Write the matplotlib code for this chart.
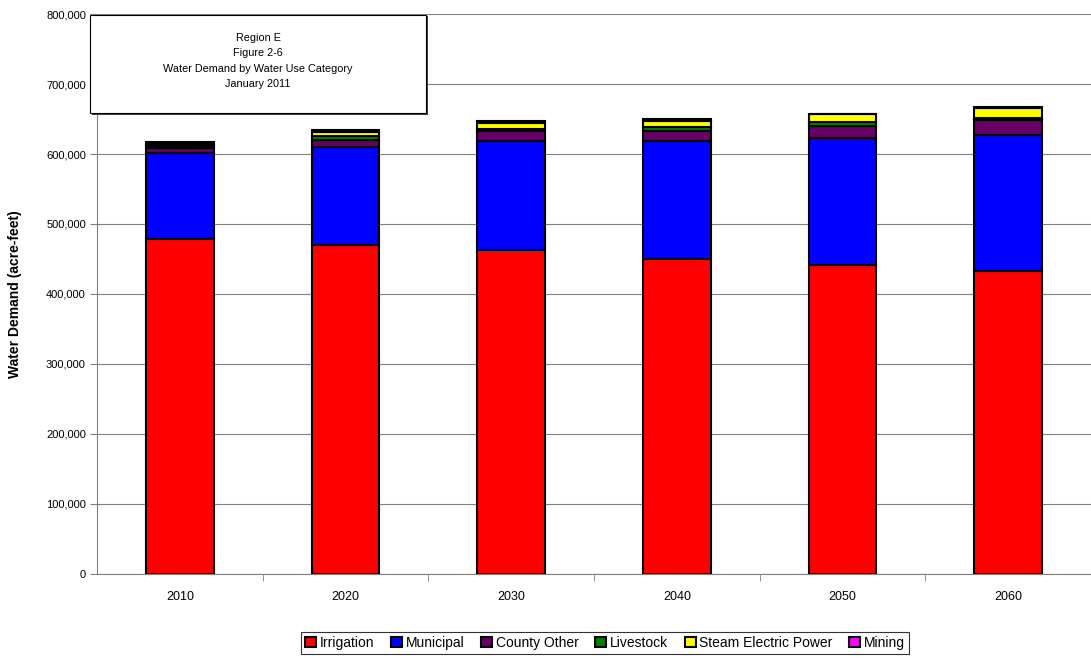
import matplotlib.pyplot as plt
import numpy as np
from matplotlib.patches import Rectangle

plt.rcParams['font.family'] = ['Liberation Sans', 'DejaVu Sans']

years = ['2010', '2020', '2030', '2040', '2050', '2060']
irrigation = [478300, 470000, 462900, 450000, 441400, 432900]
municipal = [122700, 140400, 155700, 168600, 181900, 194700]
county_other = [7100, 10000, 13800, 14700, 17100, 20500]
livestock = [3200, 4900, 3700, 4800, 4900, 2900]
steam_electric = [3000, 6600, 7800, 9500, 11400, 14300]
mining = [3300, 2000, 3200, 2000, 900, 1800]

series = [('Irrigation', irrigation, '#ff0000'),
          ('Municipal', municipal, '#0000ff'),
          ('County Other', county_other, '#660066'),
          ('Livestock', livestock, '#008000'),
          ('Steam Electric Power', steam_electric, '#ffff00'),
          ('Mining', mining, '#ff00ff')]

fig = plt.figure(figsize=(10.91, 6.58), dpi=100)
ax = fig.add_axes([0.0889, 0.1277, 0.9111, 0.851])

x = np.arange(len(years))
bottom = np.zeros(len(years))
for name, vals, color in series:
    vals = np.array(vals, dtype=float)
    ax.bar(x, vals, width=0.41, bottom=bottom, color=color, edgecolor='black',
           linewidth=1.5, label=name, zorder=3)
    bottom += vals

ax.set_xlim(-0.5, len(years) - 0.5)
ax.set_ylim(0, 800000)
ax.set_yticks(np.arange(0, 800001, 100000))
ax.set_yticklabels(['{:,}'.format(v) for v in range(0, 800001, 100000)], fontsize=8)
ax.yaxis.grid(True, color='#808080', linewidth=0.8, zorder=0)
ax.set_xticks(x)
ax.set_xticklabels(years, fontsize=9)
ax.tick_params(axis='x', length=0, pad=12)
ax.set_xticks(np.arange(0.5, len(years) - 0.5, 1), minor=True)
ax.tick_params(axis='x', which='minor', length=5, color='#808080')
ax.tick_params(axis='y', length=5, color='#808080', pad=3)
for side in ['top', 'right']:
    ax.spines[side].set_visible(False)
ax.spines['left'].set_color('#808080')
ax.spines['bottom'].set_color('#808080')

ax.set_ylabel('Water Demand (acre-feet)', fontsize=10, fontweight='bold', labelpad=17)

# title box
shadow = Rectangle((92 / 1091, (658 - 115) / 658), 336 / 1091, 99 / 658,
                   transform=fig.transFigure, facecolor='#404040', edgecolor='none', zorder=9)
box = Rectangle((90 / 1091, (658 - 113) / 658), 336 / 1091, 98 / 658,
                transform=fig.transFigure, facecolor='white', edgecolor='black',
                linewidth=0.8, zorder=10)
fig.patches.extend([shadow, box])
fig.text(258 / 1091, (658 - 61) / 658,
         'Region E\nFigure 2-6\nWater Demand by Water Use Category\nJanuary 2011',
         ha='center', va='center', fontsize=7.8, linespacing=1.7, zorder=11)

leg = fig.legend(loc='center', bbox_to_anchor=(605 / 1091, (658 - 643) / 658), ncol=6,
                 fontsize=10, frameon=True, fancybox=False, edgecolor='black',
                 handlelength=0.8, handleheight=0.8, handletextpad=0.25,
                 columnspacing=1.2, borderpad=0.3)
leg.get_frame().set_linewidth(0.8)

fig.savefig('out.png', dpi=100)
